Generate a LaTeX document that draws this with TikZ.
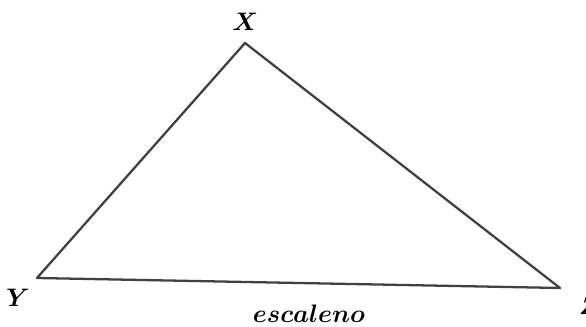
\documentclass[tikz,border=0pt]{standalone}
\usepackage{amsmath,bm}
\begin{document}
\begin{tikzpicture}[x=0.02cm, y=-0.02cm, line cap=round, line join=round,
	vlabel/.style={font=\Large}]
	\useasboundingbox (0,0) rectangle (586,327);
	% vertices
	\coordinate (X) at (245,43);
	\coordinate (Y) at (37,278);
	\coordinate (Z) at (560,288);
	\draw[line width=1.3pt, black!75] (X) -- (Y) -- (Z) -- cycle;
	% labels
	\node[vlabel] (lx) at (245,22) {$\bm{X}$};
	\node[vlabel] (ly) at (18,298) {$\bm{Y}$};
	\node[vlabel, anchor=west] (lz) at (573,306) {$\bm{Z}$};
	\node[vlabel] (lname) at (309,314) {$\bm{escaleno}$};
\end{tikzpicture}
\end{document}
